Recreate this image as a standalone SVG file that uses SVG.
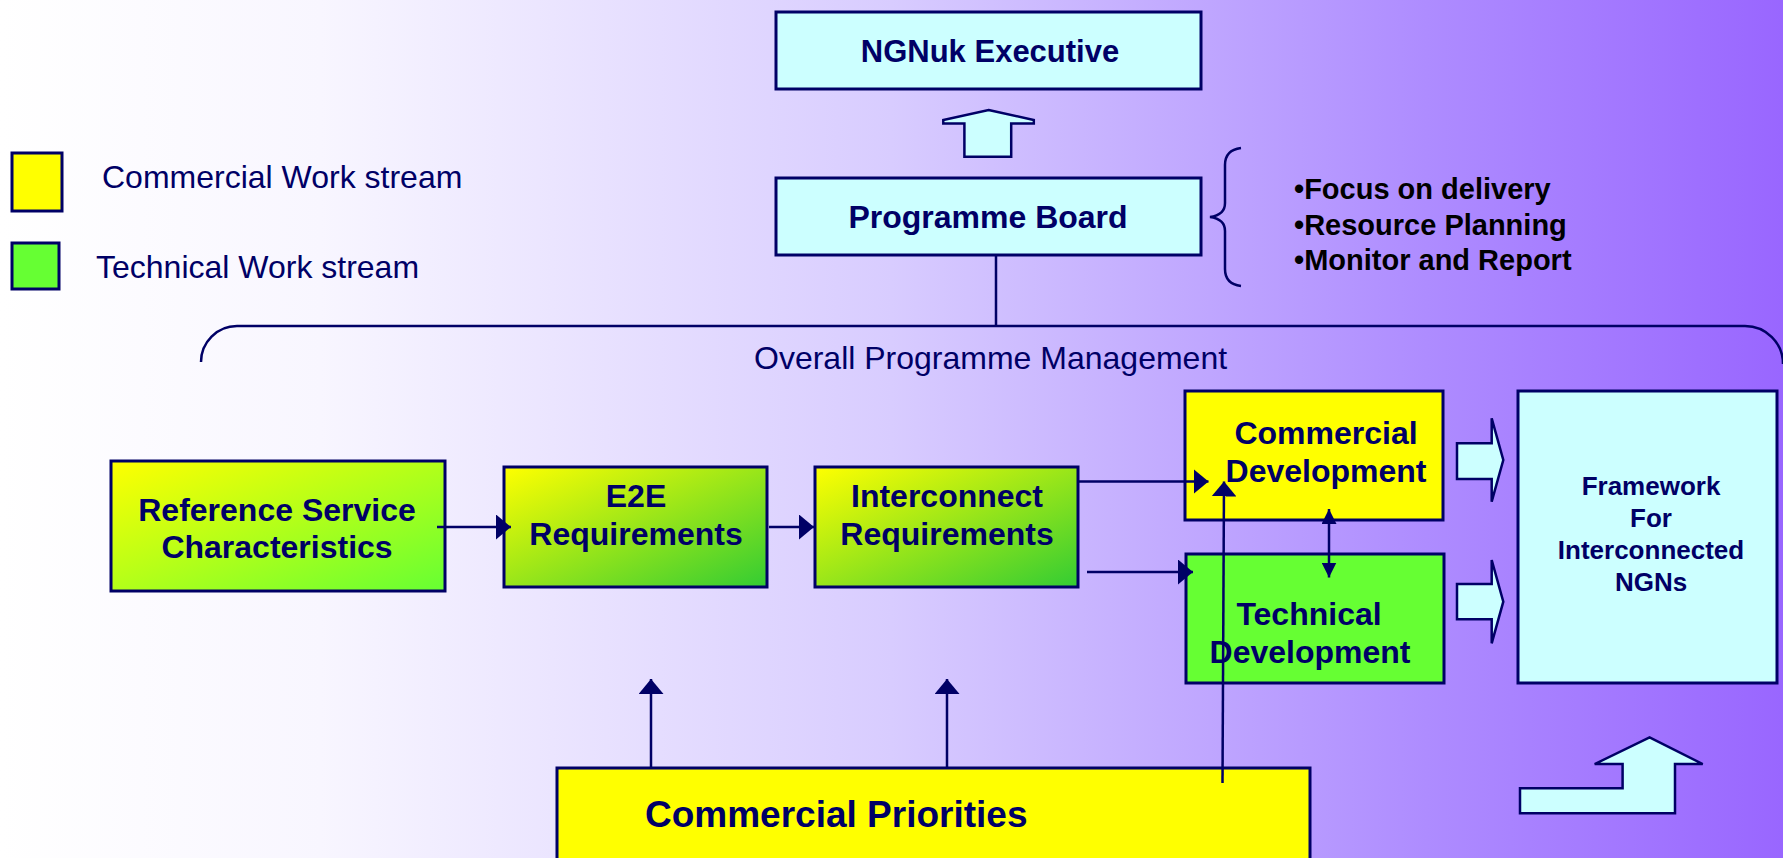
<svg xmlns="http://www.w3.org/2000/svg" width="1783" height="858" viewBox="0 0 1783 858">
<defs>
<linearGradient id="bg" x1="0" y1="0" x2="1" y2="0">
<stop offset="0" stop-color="#ffffff"/>
<stop offset="0.18" stop-color="#f8f6ff"/>
<stop offset="0.5" stop-color="#d8ccff"/>
<stop offset="0.8" stop-color="#ae8cff"/>
<stop offset="1" stop-color="#9966ff"/>
</linearGradient>
<linearGradient id="gYG" x1="0" y1="0" x2="1" y2="1">
<stop offset="0" stop-color="#ffff00"/>
<stop offset="1" stop-color="#66ff33"/>
</linearGradient>
<linearGradient id="gYD" x1="0" y1="0" x2="1" y2="1">
<stop offset="0" stop-color="#ffff00"/>
<stop offset="1" stop-color="#33cc33"/>
</linearGradient>
<marker id="ah" markerUnits="userSpaceOnUse" viewBox="0 0 15 25" markerWidth="15" markerHeight="25" refX="15" refY="12.5" orient="auto">
<path d="M0,0 L15,12.5 L0,25 z" fill="#000066"/>
</marker>
<marker id="ahs" markerUnits="userSpaceOnUse" viewBox="0 0 15 15" markerWidth="15" markerHeight="15" refX="15" refY="7.5" orient="auto">
<path d="M0,0 L15,7.5 L0,15 z" fill="#000066"/>
</marker>
<marker id="ahsStart" markerUnits="userSpaceOnUse" viewBox="0 0 15 15" markerWidth="15" markerHeight="15" refX="0" refY="7.5" orient="auto">
<path d="M15,0 L0,7.5 L15,15 z" fill="#000066"/>
</marker>
</defs>
<style>
.box{stroke:#000066;stroke-width:3}
.t{font-family:"Liberation Sans",Arial,sans-serif;fill:#000066}
.b{font-weight:bold}
.c{text-anchor:middle}
.k{font-family:"Liberation Sans",Arial,sans-serif;font-weight:bold;font-size:29px;fill:#000000}
.ln{stroke:#000066;stroke-width:2.5;fill:none}
.blk{fill:#ccffff;stroke:#000066;stroke-width:2.5;stroke-linejoin:miter}
</style>
<rect x="0" y="0" width="1783" height="858" fill="url(#bg)"/>

<g id="legend">
<rect class="box" x="12" y="153" width="50" height="58" fill="#ffff00"/>
<text class="t" x="102" y="188" font-size="32">Commercial Work stream</text>
<rect class="box" x="12" y="243" width="47" height="46" fill="#66ff33"/>
<text class="t" x="96" y="278" font-size="32">Technical Work stream</text>
</g>

<g id="ngnuk-executive">
<rect class="box" x="776" y="12" width="425" height="77" fill="#ccffff"/>
<text class="t b c" x="990" y="62" font-size="31">NGNuk Executive</text>
</g>

<g id="programme-board">
<rect class="box" x="776" y="178" width="425" height="77" fill="#ccffff"/>
<text class="t b c" x="988" y="228" font-size="32">Programme Board</text>
</g>

<g id="board-notes">
<path class="ln" stroke-width="2" d="M1241,148 Q1225,150 1225,165 L1225,203 Q1225,215 1210,217 Q1225,219 1225,231 L1225,269 Q1225,284 1241,286"/>
<text class="k" x="1294" y="199">•Focus on delivery</text>
<text class="k" x="1294" y="235">•Resource Planning</text>
<text class="k" x="1294" y="270">•Monitor and Report</text>
</g>

<g id="overall-programme-management">
<path class="ln" stroke-width="3" d="M201,362 A36,36 0 0 1 237,326 L1745,326 A38,38 0 0 1 1783,364"/>
<text class="t" x="754" y="369" font-size="32">Overall Programme Management</text>
</g>

<g id="reference-service">
<rect class="box" x="111" y="461" width="334" height="130" fill="url(#gYG)"/>
<text class="t b c" x="277" y="521" font-size="32">Reference Service</text>
<text class="t b c" x="277" y="558" font-size="32">Characteristics</text>
</g>

<g id="e2e-requirements">
<rect class="box" x="504" y="467" width="263" height="120" fill="url(#gYD)"/>
<text class="t b c" x="636" y="507" font-size="32">E2E</text>
<text class="t b c" x="636" y="545" font-size="32">Requirements</text>
</g>

<g id="interconnect-requirements">
<rect class="box" x="815" y="467" width="263" height="120" fill="url(#gYD)"/>
<text class="t b c" x="947" y="507" font-size="32">Interconnect</text>
<text class="t b c" x="947" y="545" font-size="32">Requirements</text>
</g>

<g id="commercial-development">
<rect class="box" x="1185" y="391" width="258" height="129" fill="#ffff00"/>
<text class="t b c" x="1326" y="444" font-size="32">Commercial</text>
<text class="t b c" x="1326" y="482" font-size="32">Development</text>
</g>

<g id="technical-development">
<rect class="box" x="1186" y="554" width="258" height="129" fill="#66ff33"/>
<text class="t b c" x="1309" y="625" font-size="32">Technical</text>
<text class="t b c" x="1310" y="663" font-size="32">Development</text>
</g>

<g id="framework">
<rect class="box" x="1518" y="391" width="259" height="292" fill="#ccffff"/>
<text class="t b c" x="1651" y="495" font-size="26">Framework</text>
<text class="t b c" x="1651" y="527" font-size="26">For</text>
<text class="t b c" x="1651" y="559" font-size="26">Interconnected</text>
<text class="t b c" x="1651" y="591" font-size="26">NGNs</text>
</g>

<g id="commercial-priorities">
<rect class="box" x="557" y="768" width="753" height="120" fill="#ffff00"/>
<text class="t b" x="645" y="827" font-size="37">Commercial Priorities</text>
</g>

<g id="connectors">
<line class="ln" x1="996" y1="255" x2="996" y2="326" stroke-width="2"/>
<polygon class="blk" points="988.6,110 1033.8,120 1033.8,123.5 1011.2,123.5 1011.2,156.7 964.4,156.7 964.4,123.5 943.3,123.5 943.3,120"/>
<line class="ln" x1="437" y1="527" x2="511" y2="527" marker-end="url(#ah)"/>
<line class="ln" x1="769" y1="527" x2="814" y2="527" marker-end="url(#ah)"/>
<line class="ln" x1="1078" y1="481.5" x2="1208.5" y2="481.5" marker-end="url(#ah)"/>
<line class="ln" x1="1087" y1="572" x2="1193" y2="572" marker-end="url(#ah)"/>
<line class="ln" x1="1222.5" y1="783" x2="1224" y2="481.5" marker-end="url(#ah)"/>
<line class="ln" x1="1329" y1="509" x2="1329" y2="577.5" marker-start="url(#ahsStart)" marker-end="url(#ahs)"/>
<line class="ln" x1="651" y1="768" x2="651" y2="679" marker-end="url(#ah)"/>
<line class="ln" x1="947" y1="768" x2="947" y2="679" marker-end="url(#ah)"/>
<polygon class="blk" points="1457,443.3 1491.7,443.3 1491.7,418.3 1503.3,460 1491.7,501.7 1491.7,479 1457,479"/>
<polygon class="blk" points="1457,584 1491.7,584 1491.7,560 1503.3,601.7 1491.7,643.3 1491.7,619.3 1457,619.3"/>
<polygon class="blk" points="1520,788.3 1622.6,788.3 1622.6,764 1594.7,764 1649.6,737.3 1702.7,764 1675,764 1675,813.3 1520,813.3"/>
</g>
</svg>
